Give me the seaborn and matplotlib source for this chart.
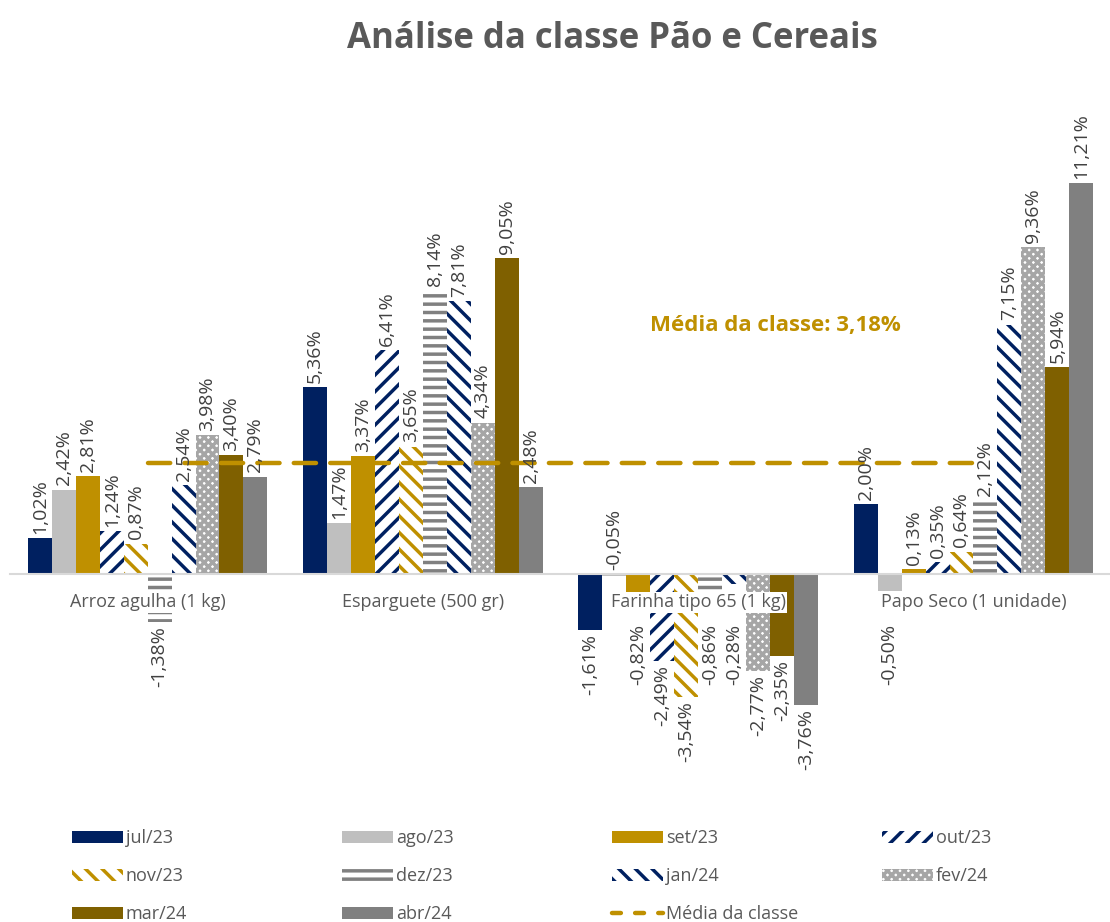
import pandas as pd
import seaborn as sns
import matplotlib.pyplot as plt
from matplotlib.patches import Patch
from matplotlib.lines import Line2D

# dados
produtos = ['Arroz agulha (1 kg)', 'Esparguete (500 gr)', 'Farinha tipo 65 (1 kg)', 'Papo Seco (1 unidade)']
meses = ['jul/23', 'ago/23', 'set/23', 'out/23', 'nov/23', 'dez/23', 'jan/24', 'fev/24', 'mar/24', 'abr/24']

arroz = [1.02, 2.42, 2.81, 1.24, 0.87, -1.38, 2.54, 3.98, 3.40, 2.79]
esparguete = [5.36, 1.47, 3.37, 6.41, 3.65, 8.14, 7.81, 4.34, 9.05, 2.48]
farinha = [-1.61, -0.05, -0.82, -2.49, -3.54, -0.86, -0.28, -2.77, -2.35, -3.76]
papo_seco = [2.00, -0.50, 0.13, 0.35, 0.64, 2.12, 7.15, 9.36, 5.94, 11.21]
media_classe = 3.18

# estilo de cada mes: (fundo, cor da trama, trama)
estilos = {
    'jul/23': ('#002060', '#002060', ''),
    'ago/23': ('#BFBFBF', '#BFBFBF', ''),
    'set/23': ('#BF9000', '#BF9000', ''),
    'out/23': ('white', '#002060', '//'),
    'nov/23': ('white', '#BF9000', '\\\\'),
    'dez/23': ('white', '#808080', '--'),
    'jan/24': ('white', '#002060', '\\\\'),
    'fev/24': ('white', '#A6A6A6', 'xxxx'),
    'mar/24': ('#7F6000', '#7F6000', ''),
    'abr/24': ('#808080', '#808080', ''),
}

df = pd.DataFrame({
    'produto': [p for p in produtos for _ in meses],
    'mes': meses * len(produtos),
    'valor': arroz + esparguete + farinha + papo_seco,
})

sns.set_theme(style='white')
plt.rcParams['font.family'] = ['Open Sans', 'DejaVu Sans']
plt.rcParams['hatch.linewidth'] = 2.5

fig = plt.figure(figsize=(11.1, 9.22), dpi=100)
ax = fig.add_axes([0.009, 0.1323, 0.992, 0.770])

sns.barplot(data=df, x='produto', y='valor', hue='mes', hue_order=meses,
            palette=[estilos[m][0] for m in meses], width=0.87, gap=0,
            saturation=1, errorbar=None, legend=False, linewidth=0, ax=ax)

for mes, cont in zip(meses, ax.containers):
    fundo, cor, trama = estilos[mes]
    for barra in cont:
        barra.set_edgecolor(cor)
        barra.set_hatch(trama)
        barra.set_linewidth(0)
    for barra, v in zip(cont, cont.datavalues):
        x = barra.get_x() + barra.get_width() / 2
        txt = f'{v:.2f}%'.replace('.', ',')
        if v >= -0.1:
            ax.annotate(txt, (x, max(v, 0)), xytext=(0, 3), textcoords='offset points',
                        rotation=90, ha='center', va='bottom', fontsize=14, color='#404040')
        else:
            ax.annotate(txt, (x, min(v, -1.3)), xytext=(0, -3), textcoords='offset points',
                        rotation=90, ha='center', va='top', fontsize=14, color='#404040')

# media da classe
ax.plot([0, 3], [media_classe, media_classe], color='#BF9000', lw=3.2,
        dashes=(5, 3.2), dash_capstyle='round', zorder=2)
ax.text(2.28, 7.13, f'Média da classe: {media_classe:.2f}%'.replace('.', ','),
        color='#BF9000', fontsize=16, fontweight='bold', ha='center', va='center')

ax.set_xlim(-0.5, 3.5)
ax.set_ylim(-6.48, 13.87)
ax.set_xlabel('')
ax.set_ylabel('')
ax.set_yticks([])
ax.set_axisbelow(False)
for s in ['top', 'right', 'left']:
    ax.spines[s].set_visible(False)
ax.spines['bottom'].set_position(('data', 0))
ax.spines['bottom'].set_color('#D9D9D9')
ax.spines['bottom'].set_linewidth(1.5)
ax.tick_params(axis='x', length=0, pad=14, labelsize=13, labelcolor='#595959')
for lab in ax.get_xticklabels():
    lab.set_bbox(dict(facecolor='white', edgecolor='none', pad=1))

fig.suptitle('Análise da classe Pão e Cereais', x=0.552, y=0.958, va='center',
             fontsize=25, fontweight='bold', color='#595959')

# legenda em grelha 4 colunas
entradas = []
for m in meses:
    fundo, cor, trama = estilos[m]
    entradas.append((Patch(facecolor=fundo, edgecolor=cor, hatch=trama, linewidth=0), m))
entradas.append((Line2D([], [], color='#BF9000', lw=3.2, dashes=(2, 3.2),
                        dash_capstyle='round'), 'Média da classe'))
xs = [67, 337, 607, 877]
for c in range(4):
    col = entradas[c::4]
    fig.legend([h for h, _ in col], [l for _, l in col], loc='upper left',
               bbox_to_anchor=(xs[c] / 1110, 1 - 824 / 922), frameon=False,
               fontsize=13, labelcolor='#595959', handlelength=2.8, handleheight=0.7,
               handletextpad=0.15, labelspacing=1.1, borderaxespad=0, borderpad=0.3)

fig.savefig('out.png', dpi=100)
